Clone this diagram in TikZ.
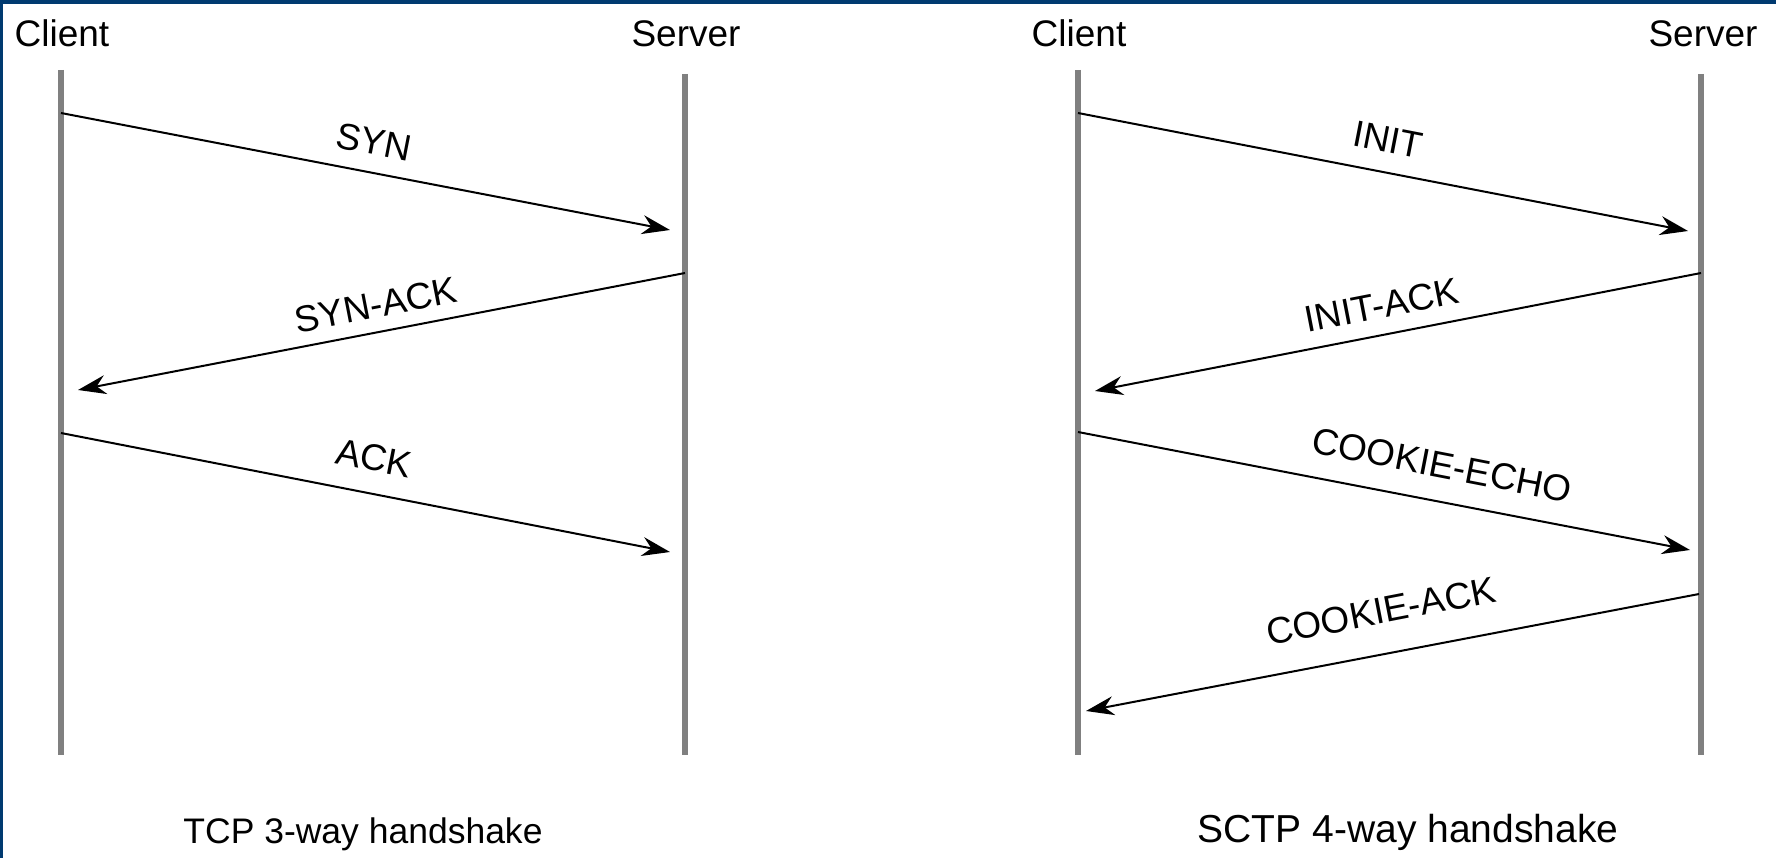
\documentclass[tikz,border=0pt]{standalone}
\usepackage{fontspec}
\setmainfont{Liberation Sans}
\usetikzlibrary{arrows.meta}
\definecolor{frameblue}{RGB}{0,58,112}
\definecolor{lifegray}{RGB}{128,128,128}
\tikzset{
  lifeline/.style={draw=lifegray, line width=6pt},
  msg/.style={draw=black, line width=2pt, -{Stealth[length=28pt,width=19pt,inset=9pt]}},
  actor/.style={font=\fontsize{37}{44}\selectfont, anchor=base, inner sep=0pt},
  msglabel/.style={font=\fontsize{37}{44}\selectfont, anchor=center, inner sep=0pt},
  caption/.style={anchor=base, inner sep=0pt}
}
\begin{document}
\begin{tikzpicture}[x=1pt, y=-1pt]
\useasboundingbox (0,0) rectangle (1776,858);
\fill[white] (0,0) rectangle (1776,858);
\fill[frameblue] (0,0) rectangle (1776,4);
\fill[frameblue] (0,0) rectangle (3,858);

% actor headers
\node[actor] (lc) at (62,47) {Client};
\node[actor] (ls) at (686,47) {Server};
\node[actor] (rc) at (1079,47) {Client};
\node[actor] (rs) at (1703,47) {Server};

% lifelines
\coordinate (lct) at (61,70);  \coordinate (lcb) at (61,755);
\coordinate (lst) at (685,74); \coordinate (lsb) at (685,755);
\coordinate (rct) at (1078,70); \coordinate (rcb) at (1078,755);
\coordinate (rst) at (1701,74); \coordinate (rsb) at (1701,755);
\draw[lifeline] (lct) -- (lcb);
\draw[lifeline] (lst) -- (lsb);
\draw[lifeline] (rct) -- (rcb);
\draw[lifeline] (rst) -- (rsb);

% TCP messages
\coordinate (a1s) at (61,113);  \coordinate (a1e) at (670,230);
\coordinate (a2s) at (685,273); \coordinate (a2e) at (78,390);
\coordinate (a3s) at (61,433);  \coordinate (a3e) at (670,552);
\draw[msg] (a1s) -- (a1e);
\draw[msg] (a2s) -- (a2e);
\draw[msg] (a3s) -- (a3e);
\node[msglabel, rotate=-11] (l1) at (374,142) {SYN};
\node[msglabel, rotate=11] (l2) at (376,305) {SYN-ACK};
\node[msglabel, rotate=-11] (l3) at (374,458) {ACK};

% SCTP messages
\coordinate (b1s) at (1078,113); \coordinate (b1e) at (1688,231);
\coordinate (b2s) at (1701,273); \coordinate (b2e) at (1095,391);
\coordinate (b3s) at (1078,432); \coordinate (b3e) at (1690,550);
\coordinate (b4s) at (1699,594); \coordinate (b4e) at (1086,711);
\draw[msg] (b1s) -- (b1e);
\draw[msg] (b2s) -- (b2e);
\draw[msg] (b3s) -- (b3e);
\draw[msg] (b4s) -- (b4e);
\node[msglabel, rotate=-11] (m1) at (1388,140) {INIT};
\node[msglabel, rotate=11] (m2) at (1382,305) {INIT-ACK};
\node[msglabel, rotate=-11] (m3) at (1442,465) {COOKIE-ECHO};
\node[msglabel, rotate=11] (m4) at (1381,611) {COOKIE-ACK};

% captions
\node[caption, font=\fontsize{35.5}{42}\selectfont] (c1) at (363,843) {TCP 3-way handshake};
\node[caption, font=\fontsize{39}{46}\selectfont] (c2) at (1408,842) {SCTP 4-way handshake};
\end{tikzpicture}
\end{document}
